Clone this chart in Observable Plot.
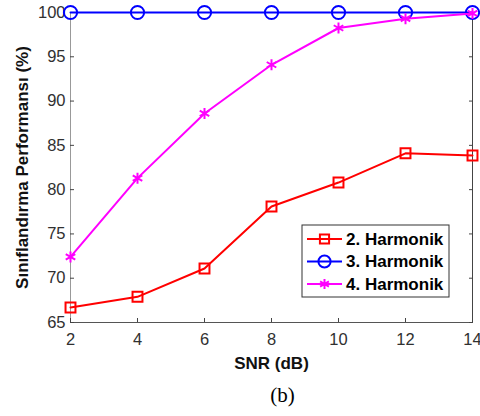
<!DOCTYPE html>
<html><head><meta charset="utf-8">
<script src="https://cdn.jsdelivr.net/npm/d3@7"></script>
<script src="https://cdn.jsdelivr.net/npm/@observablehq/plot@0.6"></script>
<style>body{margin:0;background:#fff;} #c{width:480px;height:416px;}</style>
</head><body><div id="c"></div>
<script>
const snr = [2, 4, 6, 8, 10, 12, 14];
const harm2 = [66.7, 67.9, 71.1, 78.1, 80.8, 84.1, 83.85];
const harm3 = [100, 100, 100, 100, 100, 100, 100];
const harm4 = [72.4, 81.3, 88.6, 94.1, 98.25, 99.3, 99.9];
const seriesNames = ["2. Harmonik", "3. Harmonik", "4. Harmonik"];
const seriesColors = ["#ff0000", "#0000ff", "#ff00ff"];
const seriesSymbols = ["square", "circle", "asterisk"];
const seriesR = [5.6, 6.6, 5.2];
const xTicks = [2, 4, 6, 8, 10, 12, 14];
const yTicks = [65, 70, 75, 80, 85, 90, 95, 100];
const xLabel = "SNR (dB)";
const yLabel = "Sınıflandırma Performansı (%)";
const caption = "(b)";

const allValues = [harm2, harm3, harm4];
const data = [];
allValues.forEach((vals, i) => vals.forEach((v, j) => data.push({x: snr[j], y: v, s: seriesNames[i]})));

const font = "'Liberation Sans', Arial, sans-serif";
const marks = [
  Plot.ruleY([100], {stroke: "#444", strokeWidth: 1}),
  Plot.ruleX([14], {stroke: "#444", strokeWidth: 1}),
  Plot.ruleY([65], {stroke: "#555", strokeWidth: 1}),
  Plot.ruleX([2], {stroke: "#999", strokeWidth: 1}),
  Plot.axisX({ticks: xTicks, tickSize: 0, tickPadding: 11, tickFormat: d => d, fill: "#303030", fontSize: 16.5, label: null}),
  Plot.axisX({ticks: xTicks, tickSize: -4, tickFormat: () => "", stroke: "#444", label: null}),
  Plot.axisY({ticks: yTicks, tickSize: 0, tickPadding: 5, tickFormat: d => d, fill: "#303030", fontSize: 16.5, label: null}),
  Plot.axisY({ticks: yTicks, tickSize: -4, tickFormat: () => "", stroke: "#444", label: null}),
  Plot.axisY({anchor: "right", ticks: yTicks, tickSize: -4, tickFormat: () => "", stroke: "#444", label: null}),
];
seriesNames.forEach((name, i) => {
  const d = data.filter(e => e.s === name);
  marks.push(Plot.line(d, {x: "x", y: "y", stroke: seriesColors[i], strokeWidth: 2}));
  marks.push(Plot.dot(d, {x: "x", y: "y", stroke: seriesColors[i], strokeWidth: 2, symbol: seriesSymbols[i], r: seriesR[i], fill: "none"}));
});
marks.push(Plot.text([xLabel], {frameAnchor: "bottom", dy: 41, lineAnchor: "middle", text: d => d, fontWeight: "bold", fontSize: 17, fill: "#111", fontFamily: font, textAnchor: "middle"}));
marks.push(Plot.text([yLabel], {frameAnchor: "left", dx: -48, rotate: -90, lineAnchor: "middle", text: d => d, fontWeight: "bold", fontSize: 17, fill: "#111", fontFamily: font, textAnchor: "middle"}));
marks.push(Plot.text([caption], {frameAnchor: "bottom", dx: 11, dy: 73, lineAnchor: "middle", text: d => d, fontSize: 21, fill: "#000", fontFamily: "'Liberation Serif', 'Times New Roman', serif", textAnchor: "middle"}));

const chart = Plot.plot({
  width: 480, height: 416,
  marginLeft: 70, marginRight: 8, marginTop: 12, marginBottom: 94,
  style: {fontFamily: font, background: "#fff"},
  x: {domain: [2, 14]},
  y: {domain: [65, 100]},
  marks
});
document.getElementById("c").appendChild(chart);

// legend box
const svg = d3.select(chart);
const lg = svg.append("g").attr("font-family", font).attr("text-anchor", "start");
const lx = 302, ly = 225, lw = 147, lh = 72;
lg.append("rect").attr("x", lx).attr("y", ly).attr("width", lw).attr("height", lh).attr("fill", "#fff").attr("stroke", "#333").attr("stroke-width", 1);
seriesNames.forEach((name, i) => {
  const cy = ly + 14 + i * 22.5;
  lg.append("line").attr("x1", lx + 5).attr("x2", lx + 40).attr("y1", cy).attr("y2", cy).attr("stroke", seriesColors[i]).attr("stroke-width", 2);
  const size = Math.PI * seriesR[i] * seriesR[i] * 0.85;
  const sym = {square: d3.symbolSquare, circle: d3.symbolCircle, asterisk: d3.symbolAsterisk}[seriesSymbols[i]];
  lg.append("path").attr("d", d3.symbol(sym, size)()).attr("transform", `translate(${lx + 22.5},${cy})`).attr("fill", "none").attr("stroke", seriesColors[i]).attr("stroke-width", 2);
  lg.append("text").attr("x", lx + 44).attr("y", cy).attr("dy", "0.35em").attr("text-anchor", "start").attr("font-size", 17).attr("font-weight", "bold").attr("fill", "#000").text(name);
});
</script></body></html>
